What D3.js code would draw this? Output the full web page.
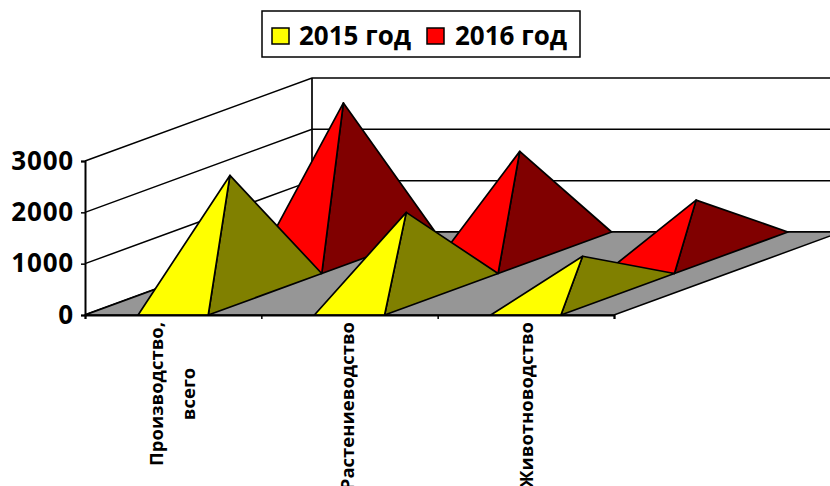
<!DOCTYPE html>
<html><head><meta charset="utf-8">
<script src="https://cdn.jsdelivr.net/npm/d3@7"></script>
<style>
html,body{margin:0;padding:0;background:#fff;overflow:hidden}
svg{display:block}
text{font-family:"Open Sans",sans-serif;font-weight:700;fill:#000}
</style></head><body>
<svg id="c" width="830" height="486"></svg>
<script>
const categories = [["Производство,","всего"],["Растениеводство"],["Животноводство"]];
const seriesNames = ["2015 год","2016 год"];
const values2015 = [2315,1595,740];
const values2016 = [2918,1975,1025];
const yTicks = [0,1000,2000,3000];
const brightColors = ["#ffff00","#ff0000"];
const darkColors = ["#808000","#800000"];

const svg = d3.select("#c");
const y = d3.scaleLinear().domain([0,3000]).range([315,161]);
const x = d3.scaleLinear().domain([0,3]).range([85,614]);
const dx = d3.scaleLinear().domain([0,1]).range([0,227]);
const dy = d3.scaleLinear().domain([0,1]).range([0,-83]);
const P = (c,d,v)=>[x(c)+dx(d), y(v)+dy(d)];
const poly = pts=>pts.map(p=>p.join(",")).join(" ");

// Walls and gridlines
yTicks.forEach(v=>{
  svg.append("polyline").attr("fill","none").attr("stroke","#000")
    .attr("stroke-width",v===0?2:1.5)
    .attr("points",poly([P(0,0,v),P(0,1,v),[840,y(v)+dy(1)]]));
});
svg.append("line").attr("stroke","#000").attr("stroke-width",1.7)
  .attr("x1",P(0,1,0)[0]).attr("x2",P(0,1,0)[0]).attr("y1",P(0,1,0)[1]).attr("y2",P(0,1,3000)[1]);

// Floor
svg.append("polygon").attr("fill","#969696").attr("stroke","#000").attr("stroke-width",1.5)
  .attr("points",poly([P(0,0,0),P(3,0,0),P(3,1,0),P(0,1,0)]));

// Pyramids: rear series first
const halfW = 0.199;
[[1,values2016],[0,values2015]].forEach(([s,vals])=>{
  const d0 = s*0.5, d1 = d0+0.5, dm = d0+0.25;
  vals.forEach((v,i)=>{
    const c = i+0.5;
    const apex = P(c,dm,v);
    const fl = P(c-halfW,d0,0), fr = P(c+halfW,d0,0), br = P(c+halfW,d1,0);
    const g = svg.append("g").attr("stroke","#000").attr("stroke-width",1.7).attr("stroke-linejoin","round");
    g.append("polygon").attr("fill",darkColors[s]).attr("points",poly([fr,br,apex]));
    g.append("polygon").attr("fill",brightColors[s]).attr("points",poly([fl,fr,apex]));
  });
});

// Axes
const yAxis = svg.append("g").attr("transform",`translate(${x(0)},0)`)
  .call(d3.axisLeft(y).tickValues(yTicks).tickSize(4).tickPadding(7).tickFormat(d3.format("d")));
yAxis.selectAll("text").attr("font-size",26).style("letter-spacing","0.8px");
const xAxis = svg.append("g").attr("transform",`translate(0,${y(0)})`)
  .call(d3.axisBottom(x).tickValues([0,1,2,3]).tickSize(4).tickFormat(""));
svg.selectAll(".domain").attr("stroke","#000").attr("stroke-width",2);
svg.selectAll(".tick line").attr("stroke","#000").attr("stroke-width",1.5);

// Category labels (rotated)
categories.forEach((lines,i)=>{
  const cx = x(i+0.5);
  const t = svg.append("text").attr("font-size",18.5)
    .attr("transform",`translate(${cx},322) rotate(-90)`);
  lines.forEach((l,k)=>{
    t.append("tspan").text(l).attr("x",k===0?0:-72).attr("y",k===0?(lines.length>1?-10:[0,4,7][i]):22)
      .attr("text-anchor",k===0?"end":"middle");
  });
});

// Legend
const lg = svg.append("g");
lg.append("rect").attr("x",262).attr("y",11).attr("width",318).attr("height",46)
  .attr("fill","#fff").attr("stroke","#000").attr("stroke-width",1.5);
seriesNames.forEach((n,i)=>{
  const sx = [272,427][i];
  lg.append("rect").attr("x",sx).attr("y",28).attr("width",17).attr("height",16)
    .attr("fill",brightColors[i]).attr("stroke","#000").attr("stroke-width",1.5);
  lg.append("text").attr("x",[299,455][i]).attr("y",45).attr("font-size",26).text(n);
});
</script>
</body></html>
